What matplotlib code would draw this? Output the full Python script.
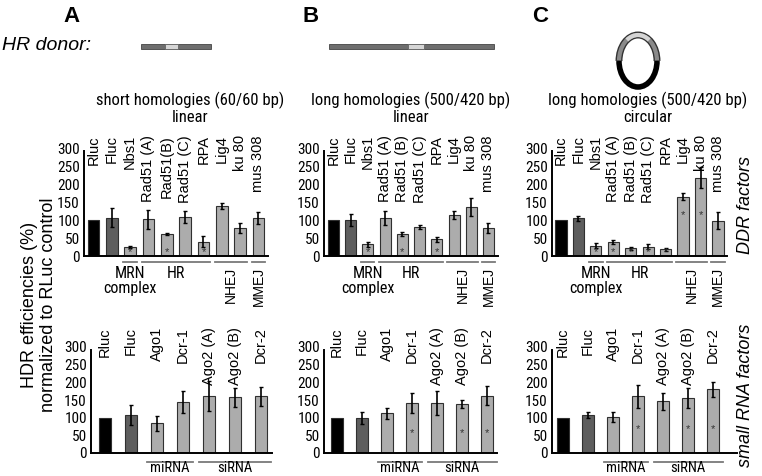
import numpy as np
import matplotlib.pyplot as plt
from matplotlib.patches import Rectangle, Arc

plt.rcParams['font.family'] = ['Liberation Sans', 'DejaVu Sans']
NARROW = ['Roboto Condensed', 'Liberation Sans Narrow', 'Liberation Sans', 'DejaVu Sans']

W, H = 762, 476

# ---- data (HDR efficiency, % of Rluc control) ----
ddr_genes_a = ['Rluc', 'Fluc', 'Nbs1', 'Rad51 (A)', 'Rad51(B)', 'Rad51 (C)', 'RPA', 'Lig4', 'ku 80', 'mus 308']
ddr_genes = ['Rluc', 'Fluc', 'Nbs1', 'Rad51 (A)', 'Rad51 (B)', 'Rad51 (C)', 'RPA', 'Lig4', 'ku 80', 'mus 308']
rna_genes = ['Rluc', 'Fluc', 'Ago1', 'Dcr-1', 'Ago2 (A)', 'Ago2 (B)', 'Dcr-2']

ddr_short = [100, 106, 25, 102, 60, 109, 40, 139, 78, 105]
ddr_short_err = [0, 26, 4, 26, 3, 16, 16, 8, 15, 17]
ddr_long = [100, 100, 33, 105, 61, 81, 46, 114, 137, 78]
ddr_long_err = [0, 17, 7, 20, 5, 5, 6, 12, 25, 15]
ddr_circ = [100, 105, 28, 38, 22, 26, 19, 165, 218, 98]
ddr_circ_err = [0, 7, 7, 6, 4, 7, 4, 10, 30, 23]

rna_short = [100, 107, 84, 144, 161, 158, 160]
rna_short_err = [0, 28, 22, 31, 42, 27, 28]
rna_long = [100, 100, 112, 142, 142, 139, 162]
rna_long_err = [0, 17, 15, 28, 34, 12, 27]
rna_circ = [100, 108, 102, 160, 146, 155, 180]
rna_circ_err = [0, 8, 13, 32, 25, 28, 21]

# significant knockdowns (bar index)
ddr_short_sig = [2, 4, 6]
ddr_long_sig = [2, 4, 6]
ddr_circ_sig = [2, 3, 4, 5, 6, 7, 8]
rna_short_sig = []
rna_long_sig = [3, 5, 6]
rna_circ_sig = [3, 5, 6]

ddr_groups = [('MRN', 2, 2), ('HR', 3, 6), ('NHEJ', 7, 8), ('MMEJ', 9, 9)]
rna_groups = [('miRNA', 2, 3), ('siRNA', 4, 6)]

titles = ['short homologies (60/60 bp)\nlinear',
          'long homologies (500/420 bp)\nlinear',
          'long homologies (500/420 bp)\ncircular']

# ---- layout in pixels: spine x, first bar centre, bar step, axis end ----
ddr_layout = [(84, 93.5, 18.33, 268), (324, 333.5, 17.22, 498), (552, 561, 17.44, 727)]
rna_layout = [(91, 105, 26, 272), (324, 337, 25, 497), (552, 563, 25, 737)]


def fx(px):
    return px / W


def fy(py):
    return 1 - py / H


fig = plt.figure(figsize=(7.62, 4.76), dpi=100)


def frac(py, top, bottom):
    return -(py - bottom) / (bottom - top)


def bar_panel(lay, top, bottom, genes, vals, errs, sig, star_y, width, groups, line_y, lab_top):
    spine, c0, step, end = lay
    ax = fig.add_axes([fx(spine), fy(bottom), (end - spine) / W, (bottom - top) / H])
    x = np.arange(len(vals))
    colors = ['black', '#5e5e5e'] + ['#acacac'] * (len(vals) - 2)
    ax.bar(x, vals, width=width, color=colors, edgecolor='#303030', linewidth=0.8, zorder=2)
    e = np.array(errs, dtype=float)
    m = e > 0
    ax.errorbar(x[m], np.array(vals)[m], yerr=e[m], fmt='none', ecolor='black',
                elinewidth=1.2, capsize=1.5, capthick=1.0, zorder=3)
    for i in sig:
        sy = star_y[i] if isinstance(star_y, list) else star_y
        ax.text(i, sy, '*', ha='center', va='center', fontsize=8, color='#333333', zorder=4)
    ax.set_xlim(-(c0 - spine) / step, (end - c0) / step)
    ax.set_ylim(0, 300)
    ax.set_yticks(range(0, 301, 50))
    ax.set_xticks([])
    ax.tick_params(axis='y', length=0, pad=3, labelsize=11)
    for lab in ax.get_yticklabels():
        lab.set_family(NARROW)
    for s in ['top', 'right']:
        ax.spines[s].set_visible(False)
    ax.spines['left'].set_bounds(0, 292)
    ax.spines['left'].set_linewidth(1.4)
    ax.spines['bottom'].set_linewidth(1.4)
    ax.patch.set_alpha(0)

    tr = ax.get_xaxis_transform()
    for i, g in enumerate(genes):
        ax.text(i, frac(lab_top, top, bottom), g, rotation=90, ha='center', va='top',
                fontsize=10.5, transform=tr, clip_on=False)

    yl = frac(line_y, top, bottom)
    for name, i0, i1 in groups:
        ax.plot([i0 - 0.38, i1 + 0.38], [yl, yl], color='#7a7a7a', lw=1.3,
                transform=tr, clip_on=False)
    return ax, tr


# top row: DDR factors
ddr_sets = [(ddr_genes_a, ddr_short, ddr_short_err, ddr_short_sig, 10),
            (ddr_genes, ddr_long, ddr_long_err, ddr_long_sig, 10),
            (ddr_genes, ddr_circ, ddr_circ_err, ddr_circ_sig,
             [10, 10, 10, 10, 10, 10, 10, 115, 115, 10])]
for k, (genes, v, e, sig, sy) in enumerate(ddr_sets):
    ax, tr = bar_panel(ddr_layout[k], 148, 256, genes, v, e, sig, sy, 0.64, ddr_groups, 262, 135)
    ax.text(2, frac(274, 148, 256), 'MRN', ha='center', va='center', fontsize=11.5,
            family=NARROW, transform=tr, clip_on=False)
    ax.text(2, frac(289, 148, 256), 'complex', ha='center', va='center', fontsize=11.5,
            family=NARROW, transform=tr, clip_on=False)
    ax.text(4.5, frac(274, 148, 256), 'HR', ha='center', va='center', fontsize=11.5,
            family=NARROW, transform=tr, clip_on=False)
    ax.text(7.5, frac(267, 148, 256), 'NHEJ', rotation=90, ha='center', va='top', fontsize=10,
            transform=tr, clip_on=False)
    ax.text(9, frac(267, 148, 256), 'MMEJ', rotation=90, ha='center', va='top', fontsize=10,
            transform=tr, clip_on=False)

# bottom row: small RNA factors
rna_sets = [(rna_short, rna_short_err, rna_short_sig, 57),
            (rna_long, rna_long_err, rna_long_sig, 57),
            (rna_circ, rna_circ_err, rna_circ_sig, 68)]
for k, (v, e, sig, sy) in enumerate(rna_sets):
    ax, tr = bar_panel(rna_layout[k], 347, 453, rna_genes, v, e, sig, sy, 0.46, rna_groups, 462, 327)
    ax.text(2.5, frac(475, 347, 453), 'miRNA', ha='center', va='bottom', fontsize=10.5,
            family=NARROW, transform=tr, clip_on=False)
    ax.text(5, frac(475, 347, 453), 'siRNA', ha='center', va='bottom', fontsize=10.5,
            family=NARROW, transform=tr, clip_on=False)

# panel letters, titles
for letter, px in zip(['A', 'B', 'C'], [72, 311, 540]):
    fig.text(fx(px), fy(16), letter, ha='center', va='center', fontsize=16, fontweight='bold')
for t, px in zip(titles, [190, 411, 648]):
    fig.text(fx(px), fy(108), t, ha='center', va='center', fontsize=12, family=NARROW,
             linespacing=1.1)

fig.text(fx(2), fy(46), 'HR donor:', ha='left', va='center', fontsize=14, style='italic')

# donor drawings: linear fragments
for x0, x1, m0, m1 in [(141, 211, 165, 178), (329, 494, 408, 424)]:
    fig.patches.append(Rectangle((fx(x0), fy(49)), (x1 - x0) / W, 5 / H, facecolor='#6e6e6e',
                                 edgecolor='#444444', lw=0.6, transform=fig.transFigure))
    fig.patches.append(Rectangle((fx(m0), fy(49)), (m1 - m0) / W, 5 / H, facecolor='#d6d6d6',
                                 edgecolor='#666666', lw=0.6, transform=fig.transFigure))

# circular donor
cx, cy, cw, ch = 638, 61, 38, 52
circ = fig.add_axes([fx(cx - cw / 2 - 4), fy(cy + ch / 2 + 4), (cw + 8) / W, (ch + 8) / H])
circ.set_xlim(-(cw / 2 + 4), cw / 2 + 4)
circ.set_ylim(-(ch / 2 + 4), ch / 2 + 4)
circ.axis('off')
circ.add_patch(Arc((0, 0), cw, ch, theta1=180, theta2=360, color='black', lw=4))
circ.add_patch(Arc((0, 0), cw, ch, theta1=0, theta2=180, color='#333333', lw=5))
circ.add_patch(Arc((0, 0), cw, ch, theta1=2, theta2=178, color='#8a8a8a', lw=3))
circ.add_patch(Arc((0, 0), cw, ch, theta1=62, theta2=118, color='#d4d4d4', lw=3))

# axis titles
fig.text(fx(39), fy(305), 'HDR efficiencies (%)\nnormalized to RLuc control', rotation=90,
         ha='center', va='center', fontsize=13, linespacing=1.2)
fig.text(fx(746), fy(205), 'DDR factors', rotation=90, ha='center', va='center',
         fontsize=13, style='italic')
fig.text(fx(746), fy(395), 'small RNA factors', rotation=90, ha='center', va='center',
         fontsize=13, style='italic')

fig.savefig('out.png', dpi=100)
